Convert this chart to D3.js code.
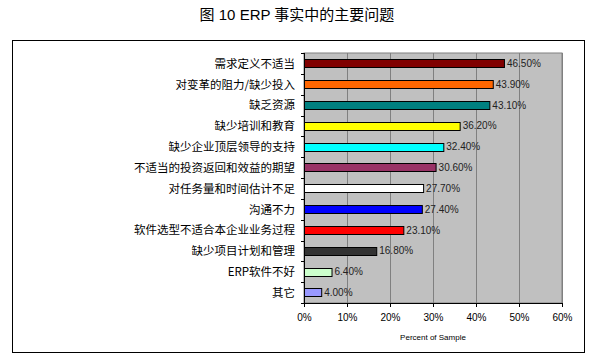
<!DOCTYPE html>
<html>
<head>
<meta charset="utf-8">
<script src="https://cdn.jsdelivr.net/npm/d3@7"></script>
<style>
  body { margin: 0; background: #fff; }
  svg { display: block; }
</style>
</head>
<body>
<div id="chart"></div>
<script>
// data
var categories = ["需求定义不适当", "对变革的阻力/缺少投入", "缺乏资源", "缺少培训和教育",
  "缺少企业顶层领导的支持", "不适当的投资返回和效益的期望", "对任务量和时间估计不足",
  "沟通不力", "软件选型不适合本企业业务过程", "缺少项目计划和管理", "ERP软件不好", "其它"];
var values = [46.5, 43.9, 43.1, 36.2, 32.4, 30.6, 27.7, 27.4, 23.1, 16.8, 6.4, 4.0];
var barColors = ["#800000", "#ff6600", "#008080", "#ffff00", "#00ffff", "#993366",
  "#ffffff", "#0000ff", "#ff0000", "#333333", "#ccffcc", "#9999ff"];
var xTicks = [0, 10, 20, 30, 40, 50, 60];
var xTickLabels = ["0%", "10%", "20%", "30%", "40%", "50%", "60%"];

var W = 595, H = 364;
var margin = {top: 53, right: 33, bottom: 61, left: 304},
    width = W - margin.left - margin.right,
    height = H - margin.top - margin.bottom;

var root = d3.select("#chart").append("svg")
  .attr("width", W).attr("height", H);

// title
root.append("text")
  .attr("x", 297).attr("y", 20)
  .attr("text-anchor", "middle")
  .style("font-family", "'Liberation Sans', 'Noto Sans CJK SC', sans-serif")
  .style("font-size", "15px")
  .text("图 10 ERP 事实中的主要问题");

// outer frame
root.append("rect")
  .attr("x", 12.5).attr("y", 40.5)
  .attr("width", 572).attr("height", 312)
  .attr("fill", "none").attr("stroke", "#000").attr("stroke-width", 1);

var svg = root.append("g")
  .attr("transform", "translate(" + margin.left + "," + margin.top + ")");

var x = d3.scaleLinear().domain([0, 60]).range([0, width]);
var y = d3.scaleBand().domain(categories).range([0, height]).paddingInner(0.6).paddingOuter(0.3);
var band = d3.scaleBand().domain(categories).range([0, height]);

// plot background
svg.append("rect")
  .attr("width", width).attr("height", height)
  .attr("fill", "#c0c0c0").attr("stroke", "#808080");

// gridlines
svg.selectAll(".grid").data(xTicks.slice(1))
  .enter().append("line")
  .attr("x1", function(d) { return Math.round(x(d)) + 0.5; })
  .attr("x2", function(d) { return Math.round(x(d)) + 0.5; })
  .attr("y1", 0).attr("y2", height)
  .attr("stroke", "#808080");

// bars
svg.selectAll(".bar").data(values)
  .enter().append("rect")
  .attr("x", 0.5)
  .attr("y", function(d, i) { return Math.round(y(categories[i])) + 0.5; })
  .attr("width", function(d) { return x(d); })
  .attr("height", Math.round(y.bandwidth()))
  .attr("fill", function(d, i) { return barColors[i]; })
  .attr("stroke", "#000").attr("stroke-width", 1);

// value labels
svg.selectAll(".val").data(values)
  .enter().append("text")
  .attr("x", function(d) { return x(d) + 3; })
  .attr("y", function(d, i) { return y(categories[i]) + y.bandwidth() / 2; })
  .attr("dy", "0.35em")
  .style("font-family", "'Liberation Sans', Arial, sans-serif")
  .style("font-size", "10px")
  .style("fill", "#222")
  .text(function(d) { return d.toFixed(2) + "%"; });

// y axis with ticks at band boundaries
svg.append("line")
  .attr("x1", 0.5).attr("x2", 0.5).attr("y1", 0).attr("y2", height)
  .attr("stroke", "#000");
svg.selectAll(".ytick").data(d3.range(categories.length + 1))
  .enter().append("line")
  .attr("x1", -3).attr("x2", 0.5)
  .attr("y1", function(d) { return Math.round(d * band.step()) + 0.5; })
  .attr("y2", function(d) { return Math.round(d * band.step()) + 0.5; })
  .attr("stroke", "#000");

svg.selectAll(".ylab").data(categories)
  .enter().append("text")
  .attr("x", -9)
  .attr("y", function(d) { return y(d) + y.bandwidth() / 2; })
  .attr("dy", "0.38em")
  .attr("text-anchor", "end")
  .style("font-family", "'Noto Sans CJK SC', sans-serif")
  .style("font-size", "11.5px")
  .text(function(d) { return d; });

// x axis
var xAxis = svg.append("g")
  .attr("transform", "translate(0," + height + ")")
  .call(d3.axisBottom(x).tickValues(xTicks)
    .tickFormat(function(d, i) { return xTickLabels[i]; })
    .tickSize(4).tickSizeOuter(0));
xAxis.select(".domain").attr("stroke", "#000");
xAxis.selectAll("text")
  .attr("y", 11)
  .style("font-family", "'Liberation Sans', Arial, sans-serif")
  .style("font-size", "10px");

// x axis title
svg.append("text")
  .attr("x", width / 2).attr("y", height + 37)
  .attr("text-anchor", "middle")
  .style("font-family", "'Liberation Sans', Arial, sans-serif")
  .style("font-size", "8px")
  .text("Percent of Sample");
</script>
</body>
</html>
